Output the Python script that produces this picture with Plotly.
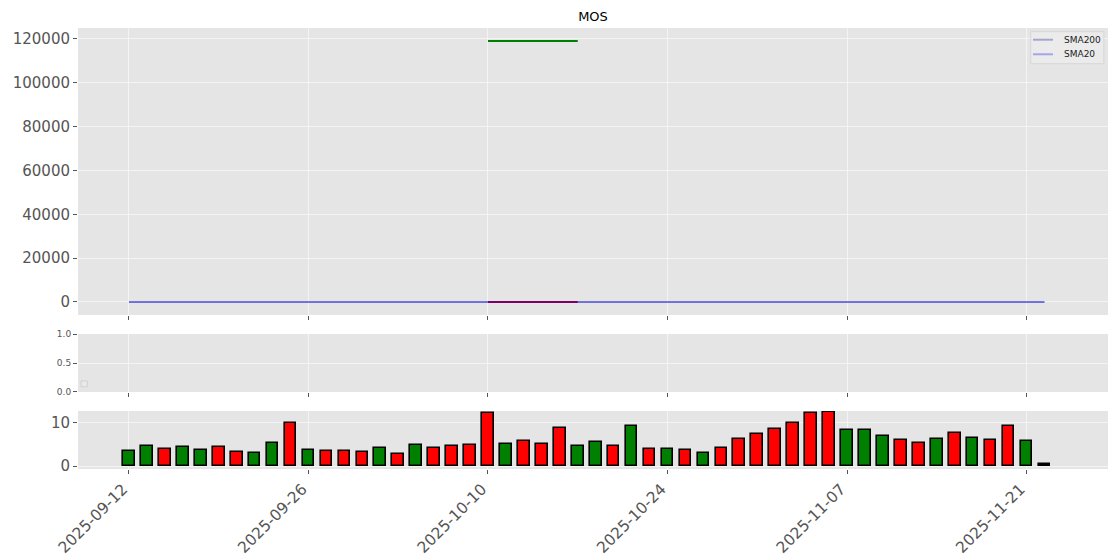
import plotly.graph_objects as go
from plotly.subplots import make_subplots

# ---------------- data ----------------
dates = [
    "2025-09-12", "2025-09-15", "2025-09-16", "2025-09-17", "2025-09-18", "2025-09-19",
    "2025-09-22", "2025-09-23", "2025-09-24", "2025-09-25", "2025-09-26",
    "2025-09-29", "2025-09-30", "2025-10-01", "2025-10-02", "2025-10-03",
    "2025-10-06", "2025-10-07", "2025-10-08", "2025-10-09", "2025-10-10",
    "2025-10-13", "2025-10-14", "2025-10-15", "2025-10-16", "2025-10-17",
    "2025-10-20", "2025-10-21", "2025-10-22", "2025-10-23", "2025-10-24",
    "2025-10-27", "2025-10-28", "2025-10-29", "2025-10-30", "2025-10-31",
    "2025-11-03", "2025-11-04", "2025-11-05", "2025-11-06", "2025-11-07",
    "2025-11-10", "2025-11-11", "2025-11-12", "2025-11-13", "2025-11-14",
    "2025-11-17", "2025-11-18", "2025-11-19", "2025-11-20", "2025-11-21",
    "2025-11-24",
]
tick_labels = ["2025-09-12", "2025-09-26", "2025-10-10", "2025-10-24", "2025-11-07", "2025-11-21"]

volume = [3.5, 4.65, 4.05, 4.3, 3.8, 4.4, 3.3, 3.05, 5.35, 9.85,
          3.75, 3.5, 3.5, 3.3, 4.2, 2.8, 4.8, 4.2, 4.65, 4.8,
          12.2, 5.1, 5.8, 5.1, 8.8, 4.65, 5.55, 4.65, 9.15, 3.95,
          3.95, 3.75, 3.0, 4.2, 6.25, 7.4, 8.55, 9.85, 12.15, 12.45,
          8.3, 8.3, 6.95, 6.0, 5.35, 6.25, 7.65, 6.5, 6.0, 9.15,
          5.8, 0.55]
direction = ["up", "up", "down", "up", "up", "down", "down", "up", "up", "down",
             "up", "down", "down", "down", "up", "down", "up", "down", "down", "down",
             "down", "up", "down", "down", "down", "up", "up", "down", "up", "down",
             "up", "down", "up", "down", "down", "down", "down", "down", "down", "down",
             "up", "up", "up", "down", "down", "up", "down", "up", "down", "down",
             "up", "flat"]

sma200 = [29.6, 29.6, 29.6, 29.5, 29.5, 29.5, 29.4, 29.4, 29.4, 29.3,
          29.3, 29.3, 29.2, 29.2, 29.2, 29.1, 29.1, 29.1, 29.0, 29.0,
          29.0, 28.9, 28.9, 28.9, 28.8, 28.8, 28.8, 28.7, 28.7, 28.7,
          28.6, 28.6, 28.6, 28.5, 28.5, 28.5, 28.4, 28.4, 28.4, 28.3,
          28.3, 28.3, 28.2, 28.2, 28.2, 28.1, 28.1, 28.1, 28.0, 28.0,
          28.0, 27.9]
sma20 = [32.0, 31.9, 31.8, 31.7, 31.5, 31.4, 31.2, 31.0, 30.9, 30.7,
         30.5, 30.3, 30.1, 29.9, 29.7, 29.5, 29.3, 29.1, 28.9, 28.7,
         28.5, 28.3, 28.1, 27.9, 27.7, 27.5, 27.4, 27.3, 27.1, 27.0,
         26.9, 26.8, 26.7, 26.6, 26.5, 26.4, 26.3, 26.2, 26.1, 26.0,
         25.9, 25.8, 25.7, 25.6, 25.5, 25.4, 25.3, 25.2, 25.1, 25.0,
         24.9, 24.8]

# anomalous segment (index range 20..25)
seg_dates = ["2025-10-10", "2025-10-13", "2025-10-14", "2025-10-15", "2025-10-16", "2025-10-17"]
seg_high = [119000, 119000, 119000, 119000, 119000, 119000]
seg_low = [0, 0, 0, 0, 0, 0]

# ---------------- figure ----------------
idx = {d: i for i, d in enumerate(dates)}
x_all = [idx[d] for d in dates]
x_seg = [idx[d] for d in seg_dates]
tick_vals = [idx[d] for d in tick_labels]
color_map = {"up": "green", "down": "red", "flat": "black"}
bar_colors = [color_map[d] for d in direction]
SMA200_COLOR = "rgba(0,0,139,0.3)"
SMA20_COLOR = "rgba(0,0,255,0.3)"

fig = make_subplots(rows=3, cols=1, shared_xaxes=False)

fig.add_trace(go.Scatter(x=x_seg, y=seg_high, mode="lines", line=dict(color="green", width=2),
                         showlegend=False, hoverinfo="skip"), row=1, col=1)
fig.add_trace(go.Scatter(x=x_seg, y=seg_low, mode="lines", line=dict(color="red", width=2),
                         showlegend=False, hoverinfo="skip"), row=1, col=1)
fig.add_trace(go.Scatter(x=x_all, y=sma200, mode="lines", name="SMA200", showlegend=False,
                         line=dict(color=SMA200_COLOR, width=2)), row=1, col=1)
fig.add_trace(go.Scatter(x=x_all, y=sma20, mode="lines", name="SMA20", showlegend=False,
                         line=dict(color=SMA20_COLOR, width=2)), row=1, col=1)

fig.add_trace(go.Scatter(x=[], y=[], showlegend=False), row=2, col=1)

fig.add_trace(go.Bar(x=x_all, y=volume, width=0.65,
                     marker=dict(color=bar_colors, line=dict(color="black", width=1.6)),
                     showlegend=False), row=3, col=1)

xr = [-2.84, 54.54]
font_family = "DejaVu Sans, sans-serif"
axis_common = dict(showgrid=True, gridcolor="#F4F4F4", gridwidth=1, zeroline=False,
                   ticks="outside", ticklen=4, tickcolor="#555555", showline=False,
                   automargin=False,
                   tickfont=dict(family=font_family, color="#555555"))

fig.update_layout(
    width=1120, height=560,
    margin=dict(l=78, r=12, t=28, b=91, autoexpand=False),
    paper_bgcolor="white", plot_bgcolor="#E5E5E5",
    bargap=0,
    font=dict(family=font_family, color="#555555"),
    title=dict(text="MOS", x=0.5, xref="paper", xanchor="center", y=1 - 16 / 560, yanchor="middle",
               font=dict(family=font_family, size=13, color="black")),
    showlegend=False,
)

fig.update_xaxes(**axis_common, range=xr, tickvals=tick_vals, ticktext=tick_labels)
fig.update_xaxes(showticklabels=False, row=1, col=1)
fig.update_xaxes(showticklabels=False, row=2, col=1)
fig.update_xaxes(tickangle=-45, tickfont=dict(size=15.5), ticklabelshift=-6, row=3, col=1)

fig.update_yaxes(**axis_common)
fig.update_yaxes(range=[-5950, 124950], tickvals=[0, 20000, 40000, 60000, 80000, 100000, 120000],
                 ticktext=["0", "20000", "40000", "60000", "80000", "100000", "120000"],
                 tickfont=dict(size=15), row=1, col=1)
fig.update_yaxes(range=[0, 1], tickvals=[0, 0.5, 1.0], ticktext=["0.0", "0.5", "1.0"],
                 tickfont=dict(size=9), row=2, col=1)
fig.update_yaxes(range=[-0.65, 12.7], tickvals=[0, 10], ticktext=["0", "10"],
                 tickfont=dict(size=15), row=3, col=1)

fig.update_layout(
    yaxis=dict(domain=[0.3492, 1.0]),
    yaxis2=dict(domain=[0.1746, 0.3061]),
    yaxis3=dict(domain=[0.0, 0.1315]),
)

# legend (drawn manually, matplotlib-like) in the top panel
fig.add_shape(type="rect", xref="paper", yref="paper", x0=0.925, x1=0.996, y0=0.919, y1=0.9916,
              line=dict(color="#D6D6D6", width=1), fillcolor="rgba(236,236,236,0.8)", layer="above")
legend_items = [("SMA200", SMA200_COLOR, 0.9735), ("SMA20", SMA20_COLOR, 0.9404)]
for name, col, yy in legend_items:
    fig.add_shape(type="line", xref="paper", yref="paper", x0=0.9272, x1=0.9466, y0=yy, y1=yy,
                  line=dict(color=col, width=2), layer="above")
    fig.add_annotation(text=name, xref="paper", yref="paper", x=0.9553, y=yy,
                       xanchor="left", yanchor="middle", showarrow=False,
                       font=dict(family=font_family, size=9, color="#222222"))

# empty legend box in the middle panel
fig.add_shape(type="rect", xref="x2 domain", yref="y2 domain",
              x0=0.003, x1=0.009, y0=0.09, y1=0.19,
              line=dict(color="#D0D0D0", width=1), fillcolor="rgba(235,235,235,0.8)")

fig.write_html("out.html", config={"displayModeBar": False},
               post_script="document.body.style.margin='0';document.body.style.overflow='hidden';")
